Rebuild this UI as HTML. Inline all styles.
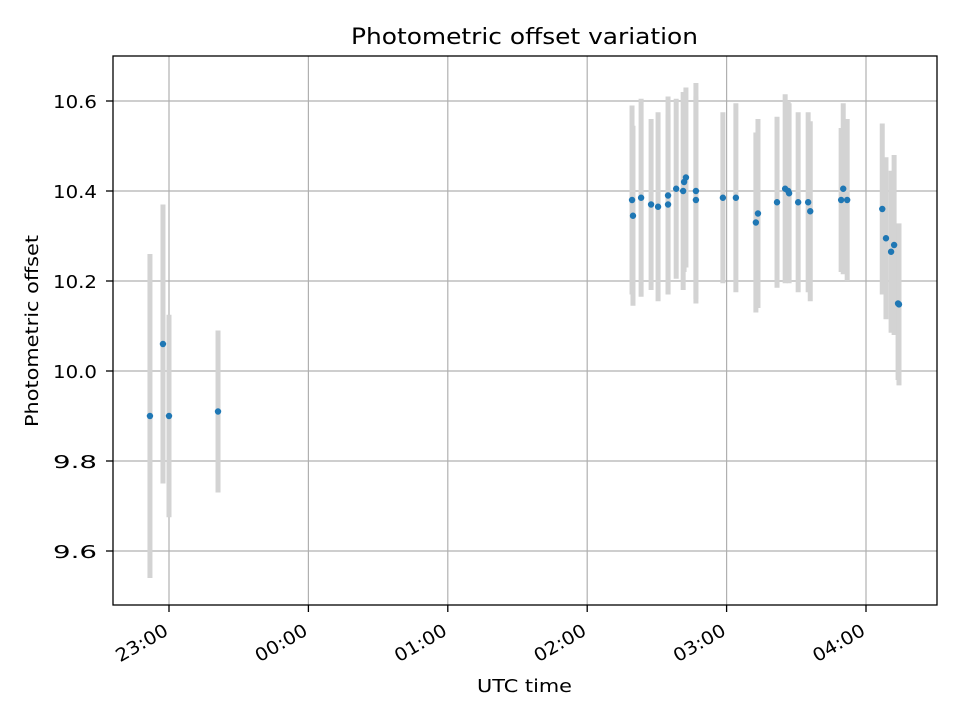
<!DOCTYPE html>
<html><head><meta charset="utf-8"><style>
body{margin:0;background:#fff;font-family:"DejaVu Sans","Liberation Sans",sans-serif}
</style></head><body>
<svg id="chart" width="960" height="720" xmlns="http://www.w3.org/2000/svg" font-family="DejaVu Sans, Liberation Sans, sans-serif">
<rect width="960" height="720" fill="#fff"/>
<text x="351" y="44" font-size="22" textLength="347" lengthAdjust="spacingAndGlyphs">Photometric offset variation</text>
<text x="477" y="692" font-size="18" textLength="95" lengthAdjust="spacingAndGlyphs">UTC time</text>
<text transform="translate(38,427) rotate(-90)" font-size="18" textLength="192" lengthAdjust="spacingAndGlyphs">Photometric offset</text>
<g id="grid"></g><g id="bars"></g><g id="pts"></g><g id="ticks"></g>
<rect x="113" y="56" width="824" height="549" fill="none" stroke="#000" stroke-width="1.3"/>
</svg>
<script>
// minutes since 22:00 UTC
const times=[51.8,57.4,60,81.1,259.3,259.7,263.2,267.5,270.5,274.8,274.8,278.3,281.3,281.7,282.5,286.8,286.8,298.4,304.0,312.6,313.5,321.7,325.2,326.5,326.9,330.8,335.1,336.0,349.3,350.2,351.9,367.0,368.6,370.8,372.1,373.8,374.2];
const values=[9.90,10.06,9.90,9.91,10.38,10.345,10.385,10.37,10.365,10.39,10.37,10.405,10.40,10.42,10.43,10.40,10.38,10.385,10.385,10.33,10.35,10.375,10.405,10.40,10.395,10.375,10.375,10.355,10.38,10.405,10.38,10.36,10.295,10.265,10.28,10.15,10.148];
const errors=[0.36,0.31,0.225,0.18,0.21,0.2,0.22,0.19,0.21,0.22,0.2,0.2,0.22,0.2,0.2,0.24,0.23,0.19,0.21,0.2,0.21,0.19,0.21,0.2,0.2,0.2,0.2,0.2,0.16,0.19,0.18,0.19,0.18,0.18,0.2,0.17,0.18];
const yTicks=[9.6,9.8,10.0,10.2,10.4,10.6];
const xTickMins=[60,120,180,240,300,360];
const xTickLabels=["23:00","00:00","01:00","02:00","03:00","04:00"];
const NS="http://www.w3.org/2000/svg";
const X=m=>169+(m-60)*139.4/60;
const Y=v=>371-(v-10)*450;
function mk(tag,attrs,parent){const e=document.createElementNS(NS,tag);for(const k in attrs)e.setAttribute(k,attrs[k]);document.getElementById(parent).appendChild(e);return e;}
yTicks.forEach((t,i)=>{
  const g=mk('line',{x1:113,x2:937,y1:Y(t),y2:Y(t),stroke:'#b0b0b0','stroke-width':1.2},'grid');
  
  
  mk('line',{x1:106,x2:113,y1:Y(t),y2:Y(t),stroke:'#000','stroke-width':1.3},'ticks');
  const tx=mk('text',{x:97,y:Y(t)+7,'font-size':18,'text-anchor':'end',textLength:44,lengthAdjust:'spacingAndGlyphs'},'ticks');
  tx.textContent=t.toFixed(1);
  
  
});
xTickMins.forEach((m,i)=>{
  const x=X(m);
  const g=mk('line',{x1:x,x2:x,y1:56,y2:605,stroke:'#b0b0b0','stroke-width':1.2},'grid');
  
  
  mk('line',{x1:x,x2:x,y1:605,y2:612,stroke:'#000','stroke-width':1.3},'ticks');
  const tx=mk('text',{transform:`translate(${x+0.5},${634}) rotate(-30)`,'font-size':18,'text-anchor':'end',textLength:57,lengthAdjust:'spacingAndGlyphs'},'ticks');
  tx.textContent=xTickLabels[i];
  
  
});
times.forEach((m,i)=>{
  const x=X(m);
  const b=mk('line',{x1:x,x2:x,y1:Y(values[i]+errors[i]),y2:Y(values[i]-errors[i]),stroke:'#d3d3d3','stroke-width':5},'bars');
  
  
});
times.forEach((m,i)=>{
  const c=mk('circle',{cx:X(m),cy:Y(values[i]),r:3.2,fill:'#1f77b4'},'pts');
  
  
});
</script>
</body></html>
